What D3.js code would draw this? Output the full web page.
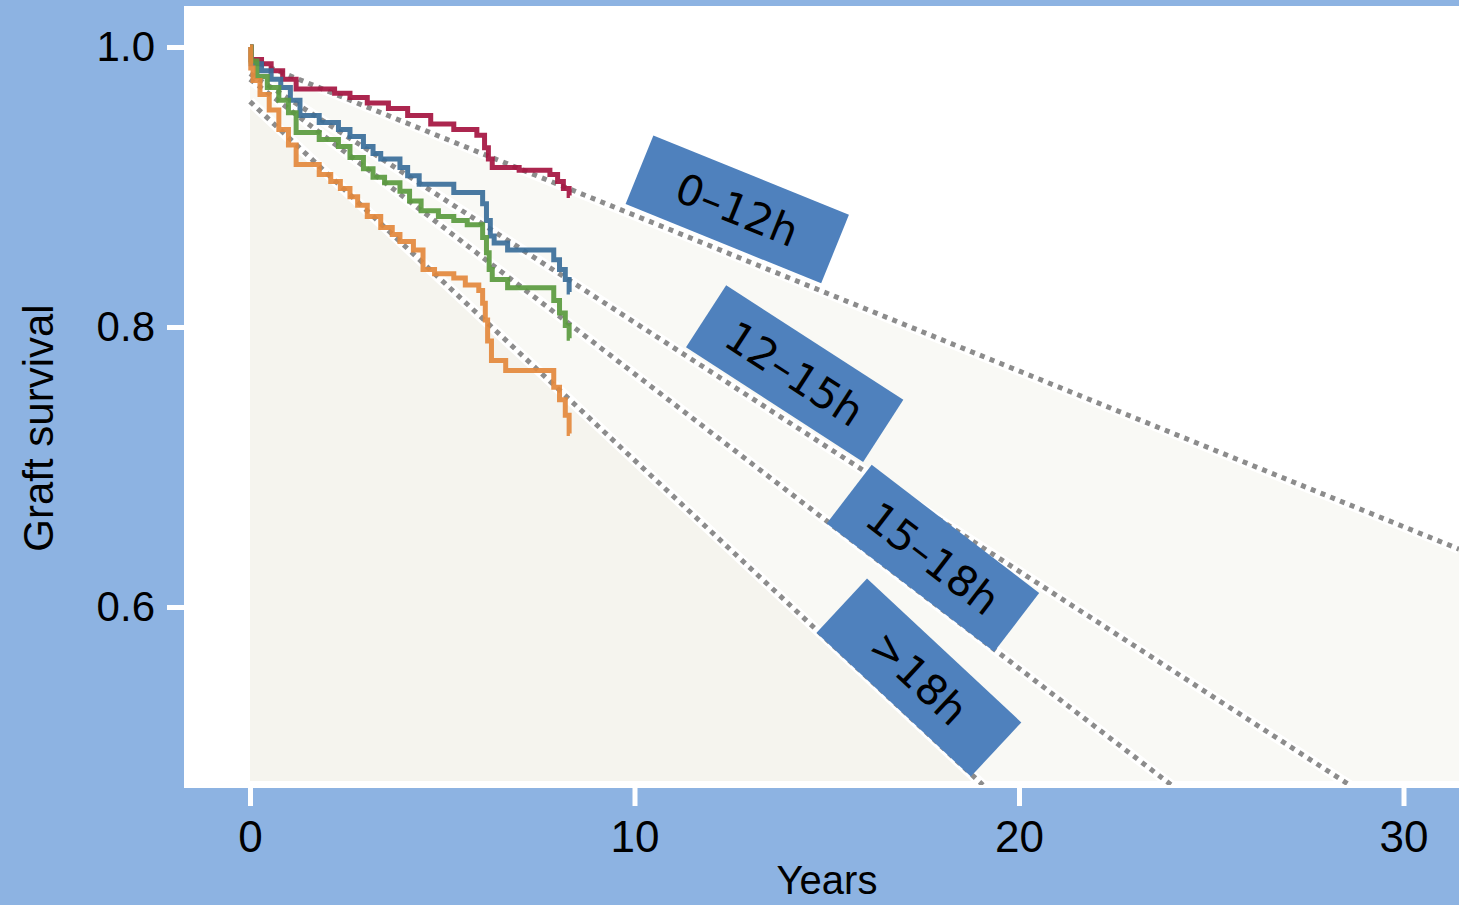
<!DOCTYPE html>
<html>
<head>
<meta charset="utf-8">
<script src="https://cdn.jsdelivr.net/npm/d3@7"></script>
<style>
  body { margin: 0; background: #8db3e2; }
  svg { display: block; }
</style>
</head>
<body>
<div id="chart"></div>
<script>
// groups = cold ischemia time
const GROUPS = ["0–12h", "12–15h", "15–18h", ">18h"];

// Kaplan-Meier steps, [years, graft survival]
const KM_0_12 = [[0,1],[0.03,0.991],[0.3,0.988],[0.55,0.983],[0.85,0.977],[1.2,0.97],[2.2,0.967],[2.6,0.964],
  [3.05,0.96],[3.6,0.956],[4.1,0.951],[4.7,0.945],[5.3,0.941],[5.9,0.937],[6.1,0.928],[6.2,0.92],[6.3,0.914],
  [7.0,0.912],[7.8,0.909],[8.0,0.904],[8.15,0.899],[8.3,0.894],[8.32,0.894]];
const KM_12_15 = [[0,1],[0.03,0.988],[0.3,0.983],[0.55,0.977],[0.8,0.971],[1.05,0.962],[1.3,0.951],[1.8,0.946],
  [2.3,0.941],[2.6,0.936],[2.95,0.929],[3.2,0.924],[3.4,0.92],[3.9,0.914],[4.1,0.908],[4.4,0.902],[5.3,0.896],
  [6.05,0.888],[6.15,0.876],[6.25,0.865],[6.35,0.86],[6.7,0.855],[7.9,0.848],[8.05,0.841],[8.2,0.834],
  [8.3,0.825],[8.32,0.825]];
const KM_15_18 = [[0,1],[0.03,0.99],[0.18,0.979],[0.45,0.971],[0.75,0.962],[1.0,0.953],[1.2,0.939],[1.8,0.934],
  [2.3,0.929],[2.6,0.921],[2.95,0.913],[3.2,0.907],[3.5,0.903],[3.9,0.897],[4.15,0.89],[4.45,0.883],[4.9,0.879],
  [5.3,0.876],[5.65,0.873],[6.05,0.864],[6.15,0.853],[6.22,0.841],[6.3,0.834],[6.7,0.828],[7.9,0.819],
  [8.05,0.81],[8.2,0.801],[8.3,0.792],[8.32,0.792]];
const KM_18_PLUS = [[0,1],[0.02,0.985],[0.08,0.976],[0.26,0.966],[0.5,0.955],[0.75,0.941],[1.0,0.93],[1.2,0.916],
  [1.8,0.909],[2.1,0.904],[2.35,0.899],[2.6,0.893],[2.8,0.887],[3.05,0.879],[3.4,0.871],[3.7,0.866],[3.9,0.861],
  [4.25,0.855],[4.5,0.841],[4.8,0.838],[5.3,0.835],[5.6,0.83],[5.95,0.826],[6.05,0.817],[6.12,0.805],
  [6.18,0.79],[6.28,0.776],[6.65,0.769],[7.9,0.757],[8.05,0.748],[8.2,0.737],[8.3,0.724],[8.32,0.724]];
const KM_CURVES = [KM_0_12, KM_12_15, KM_15_18, KM_18_PLUS];

// extrapolated linear fits: survival at year 0 and loss per year
const FIT_START = [0.991, 0.981, 0.977, 0.961];
const FIT_SLOPE = [0.01112, 0.01777, 0.02104, 0.02561];

const X_TICKS = [0, 10, 20, 30];
const Y_TICKS = [0.6, 0.8, 1.0];

// ---- layout ----
const FRAME_WIDTH = 1459;
const FRAME_HEIGHT = 905;
const PLOT = {left: 184, top: 6, right: 1459, bottom: 788};
const FILL_BOTTOM = 781;
const LINE_BOTTOM = 785;
const COLORS = ["#a51440", "#3a6e99", "#5a9a3e", "#e3883c"];
const FONT = "'Liberation Sans', Arial, sans-serif";

// where each label box sits along its fit line (years) and gap above the line
const LABEL_T = [9.7, 11.24, 15.03, 14.77];
const LABEL_GAP = [7, 7, -2, -2];
const BOX_W = 211, BOX_H = 74;

const X_SCALE = d3.scaleLinear().domain([0, 30]).range([250, 1403.5]);
const Y_SCALE = d3.scaleLinear().domain([0.6, 1.0]).range([607, 47]);

const FRAME = d3.select("#chart")
  .append("svg")
    .attr("width", FRAME_WIDTH)
    .attr("height", FRAME_HEIGHT);

const defs = FRAME.append("defs");
defs.append("clipPath").attr("id", "plotClip")
  .append("rect")
    .attr("x", PLOT.left).attr("y", PLOT.top)
    .attr("width", PLOT.right - PLOT.left).attr("height", LINE_BOTTOM - PLOT.top);
defs.append("clipPath").attr("id", "fillClip")
  .append("rect")
    .attr("x", PLOT.left).attr("y", PLOT.top)
    .attr("width", PLOT.right - PLOT.left).attr("height", FILL_BOTTOM - PLOT.top);

// white plot panel
FRAME.append("rect")
  .attr("x", PLOT.left).attr("y", PLOT.top)
  .attr("width", PLOT.right - PLOT.left).attr("height", PLOT.bottom - PLOT.top)
  .attr("fill", "#ffffff");

const tMax = X_SCALE.invert(PLOT.right);
const sMin = Y_SCALE.invert(LINE_BOTTOM);
const fit = (i, t) => FIT_START[i] - FIT_SLOPE[i] * t;
const fitEnd = (i) => Math.min(tMax, (FIT_START[i] - sMin) / FIT_SLOPE[i]);

function fitPoints(i) {
  const tEnd = fitEnd(i);
  return [[0, fit(i, 0)], [tEnd, fit(i, tEnd)]];
}

// shaded areas under the top and bottom fit lines
const area = d3.area()
  .x(d => X_SCALE(d[0]))
  .y0(LINE_BOTTOM)
  .y1(d => Y_SCALE(d[1]));

const fills = FRAME.append("g").attr("clip-path", "url(#fillClip)");
[[0, "#f9f9f5"], [3, "#f5f4ee"]].forEach(([i, c]) => {
  fills.append("path")
    .datum(fitPoints(i))
    .attr("d", area)
    .attr("fill", c);
});

// fit lines with white halo
const fitLine = d3.line().x(d => X_SCALE(d[0])).y(d => Y_SCALE(d[1]));
const lines = FRAME.append("g").attr("clip-path", "url(#plotClip)");
FIT_START.forEach((s, i) => {
  lines.append("path")
    .attr("d", fitLine(fitPoints(i)))
    .attr("stroke", "#ffffff")
    .attr("stroke-width", 10)
    .attr("fill", "none");
});
FIT_START.forEach((s, i) => {
  lines.append("path")
    .attr("d", fitLine(fitPoints(i)))
    .attr("stroke", "#8c8c8c")
    .attr("stroke-width", 5)
    .attr("stroke-dasharray", "5 5.5")
    .attr("fill", "none");
});

// Kaplan-Meier step curves
const kmLine = d3.line()
  .x(d => X_SCALE(d[0]))
  .y(d => Y_SCALE(d[1]))
  .curve(d3.curveStepAfter);

FRAME.append("g")
  .selectAll("path")
  .data(KM_CURVES)
  .enter()
  .append("path")
    .attr("d", kmLine)
    .attr("fill", "none")
    .attr("stroke", (d, i) => COLORS[i])
    .attr("stroke-width", 5)
    .attr("stroke-opacity", 0.92);

// rotated label boxes sitting on the fit lines
GROUPS.forEach((name, i) => {
  const t = LABEL_T[i];
  const x0 = X_SCALE(t), y0 = Y_SCALE(fit(i, t));
  const x1 = X_SCALE(t + 1), y1 = Y_SCALE(fit(i, t + 1));
  const angle = Math.atan2(y1 - y0, x1 - x0) * 180 / Math.PI;
  const g = FRAME.append("g")
    .attr("transform", "translate(" + x0 + "," + y0 + ") rotate(" + angle + ")");
  g.append("rect")
    .attr("x", 0).attr("y", -(BOX_H + LABEL_GAP[i]))
    .attr("width", BOX_W).attr("height", BOX_H)
    .attr("fill", "#4f81bd");
  g.append("text")
    .attr("x", BOX_W / 2).attr("y", -(BOX_H / 2 + LABEL_GAP[i]))
    .attr("text-anchor", "middle")
    .attr("dy", "0.36em")
    .attr("font-family", "'DejaVu Sans', sans-serif")
    .attr("font-size", 42)
    .attr("fill", "#000")
    .text(name);
});

// axes
const xAxis = FRAME.append("g")
  .attr("transform", "translate(0," + PLOT.bottom + ")")
  .call(d3.axisBottom(X_SCALE).tickValues(X_TICKS).tickSize(18).tickPadding(15).tickFormat(d3.format("d")));
const yAxis = FRAME.append("g")
  .attr("transform", "translate(" + PLOT.left + ",0)")
  .call(d3.axisLeft(Y_SCALE).tickValues(Y_TICKS).tickSize(17).tickPadding(12).tickFormat(d3.format(".1f")));

[xAxis, yAxis].forEach(ax => {
  ax.select(".domain").remove();
  ax.selectAll(".tick line").attr("stroke", "#ffffff").attr("stroke-width", 5);
  ax.selectAll(".tick text")
    .attr("fill", "#000")
    .attr("font-family", FONT);
});
xAxis.selectAll(".tick text").attr("font-size", 44);
yAxis.selectAll(".tick text").attr("font-size", 42);

FRAME.append("text")
  .attr("x", 827).attr("y", 894)
  .attr("text-anchor", "middle")
  .attr("font-family", FONT)
  .attr("font-size", 40)
  .text("Years");

FRAME.append("text")
  .attr("transform", "translate(53,428) rotate(-90)")
  .attr("text-anchor", "middle")
  .attr("font-family", FONT)
  .attr("font-size", 42)
  .text("Graft survival");
</script>
</body>
</html>
